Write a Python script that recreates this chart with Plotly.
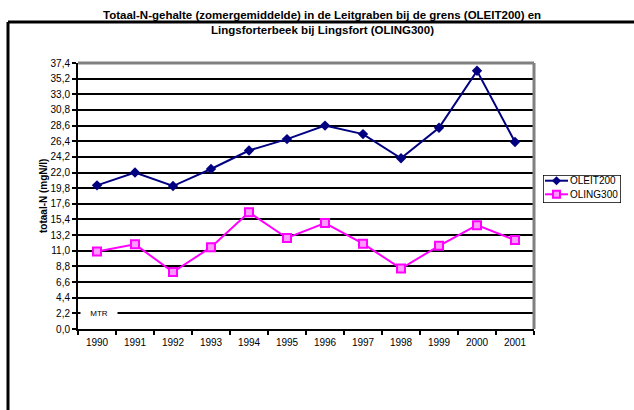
import plotly.graph_objects as go

years = [str(y) for y in range(1990, 2002)]
oleit200 = [20.2, 22.0, 20.1, 22.5, 25.1, 26.7, 28.6, 27.4, 24.0, 28.3, 36.3, 26.3]
oling300 = [10.9, 11.9, 8.0, 11.5, 16.4, 12.8, 14.9, 12.0, 8.5, 11.7, 14.6, 12.5]
y_ticks = [round(i * 2.2, 1) for i in range(18)]
y_ticklabels = [f"{v:.1f}".replace(".", ",") for v in y_ticks]
mtr_level = 2.2
title_lines = [
    "Totaal-N-gehalte (zomergemiddelde) in de Leitgraben bij de grens (OLEIT200) en",
    "Lingsforterbeek bij Lingsfort (OLING300)",
]
y_title = "totaal-N (mgN/l)"

FONT = "Liberation Sans, Arial, sans-serif"
NAVY = "#000080"
MAGENTA = "#ff00ff"

# page geometry (pixels); the paper area spans from the left margin to the right edge
W, H = 634, 410
L, T, B = 78, 63, 81
PLOT_R = 534
PW, PH = W - L, H - T - B


def px(xp):
    return (xp - L) / PW


def py(yp):
    return (H - B - yp) / PH


series_style = {
    "OLEIT200": dict(line=dict(color=NAVY, width=2),
                     marker=dict(symbol="diamond", size=8, color=NAVY)),
    "OLING300": dict(line=dict(color=MAGENTA, width=2),
                     marker=dict(symbol="square", size=8, color="#ff99ff",
                                 line=dict(color=MAGENTA, width=2))),
}

fig = go.Figure()
for name, vals in (("OLEIT200", oleit200), ("OLING300", oling300)):
    fig.add_trace(go.Scatter(x=years, y=vals, name=name, mode="lines+markers",
                             showlegend=False, **series_style[name]))

# legend samples drawn on a small pixel-scaled axis pair to the right of the plot
LEG_X0, LEG_X1, LEG_Y0, LEG_Y1 = 543, 621, 175, 203
legend_rows = [("OLEIT200", 180.7), ("OLING300", 194.3)]
for name, yrow in legend_rows:
    st = series_style[name]
    fig.add_trace(go.Scatter(x=[545, 568], y=[yrow, yrow], mode="lines",
                             line=st["line"], xaxis="x2", yaxis="y2",
                             showlegend=False, hoverinfo="skip"))
    fig.add_trace(go.Scatter(x=[556.5], y=[yrow], mode="markers",
                             marker=dict(st["marker"], size=7), xaxis="x2", yaxis="y2",
                             showlegend=False, hoverinfo="skip"))
    fig.add_annotation(x=568, y=yrow, xref="x2", yref="y2", text=name,
                       showarrow=False, xanchor="left", yanchor="middle",
                       font=dict(family=FONT, size=10, color="black"))
fig.add_shape(type="rect", xref="x2", yref="y2", x0=LEG_X0, x1=LEG_X1,
              y0=LEG_Y0, y1=LEG_Y1, line=dict(color="black", width=1.5))

fig.update_layout(
    width=W, height=H,
    margin=dict(l=L, r=0, t=T, b=B),
    paper_bgcolor="white", plot_bgcolor="white",
    font=dict(family=FONT, size=10, color="black"),
    showlegend=False,
    xaxis=dict(
        domain=[0, px(PLOT_R)],
        type="category", showgrid=False, zeroline=False,
        showline=True, linecolor="black", linewidth=2,
        ticks="outside", tickson="boundaries", ticklen=4, tickwidth=2,
        tickcolor="black", tickfont=dict(family=FONT, size=10),
        ticklabelstandoff=3,
        range=[-0.5, 11.5],
    ),
    yaxis=dict(
        range=[0, 37.4], tickvals=y_ticks, ticktext=y_ticklabels,
        showgrid=True, gridcolor="black", gridwidth=2,
        zeroline=False, showline=True, linecolor="black", linewidth=2,
        ticks="outside", ticklen=4, tickwidth=2, tickcolor="black",
        tickfont=dict(family=FONT, size=10),
    ),
    xaxis2=dict(domain=[px(LEG_X0), px(LEG_X1)], range=[LEG_X0, LEG_X1],
                visible=False, fixedrange=True, anchor="y2"),
    yaxis2=dict(domain=[py(LEG_Y1), py(LEG_Y0)], range=[LEG_Y1, LEG_Y0],
                visible=False, fixedrange=True, anchor="x2"),
)

# gray border along top and right of the plot area
fig.add_shape(type="line", xref="paper", yref="paper", x0=0, x1=px(PLOT_R), y0=1, y1=1,
              line=dict(color="#808080", width=3), layer="above")
fig.add_shape(type="line", xref="paper", yref="paper", x0=px(PLOT_R), x1=px(PLOT_R),
              y0=0, y1=1, line=dict(color="#808080", width=3), layer="above")

# outer chart frame (left and top edges)
fig.add_shape(type="line", xref="paper", yref="paper",
              x0=px(8), x1=px(W + 10), y0=py(22), y1=py(22),
              line=dict(color="black", width=3))
fig.add_shape(type="line", xref="paper", yref="paper",
              x0=px(8), x1=px(8), y0=py(H + 10), y1=py(22),
              line=dict(color="black", width=3))

# two-line bold title
for text, yc in zip(title_lines, (15.5, 30.0)):
    fig.add_annotation(x=px(322), y=py(yc), xref="paper", yref="paper",
                       text=f"<b>{text}</b>", showarrow=False,
                       xanchor="center", yanchor="middle",
                       font=dict(family=FONT, size=11.5, color="black"))

# rotated y-axis title
fig.add_annotation(x=px(43), y=py(196), xref="paper", yref="paper",
                   text=f"<b>{y_title}</b>", showarrow=False, textangle=-90,
                   xanchor="center", yanchor="middle",
                   font=dict(family=FONT, size=10, color="black"))

# MTR label on its reference level
fig.add_annotation(x=px(98.5), y=mtr_level, xref="paper", yref="y", text="MTR",
                   showarrow=False, bgcolor="white", width=34,
                   xanchor="center", yanchor="middle",
                   font=dict(family=FONT, size=8, color="black"))

fig.write_html("out.html")
